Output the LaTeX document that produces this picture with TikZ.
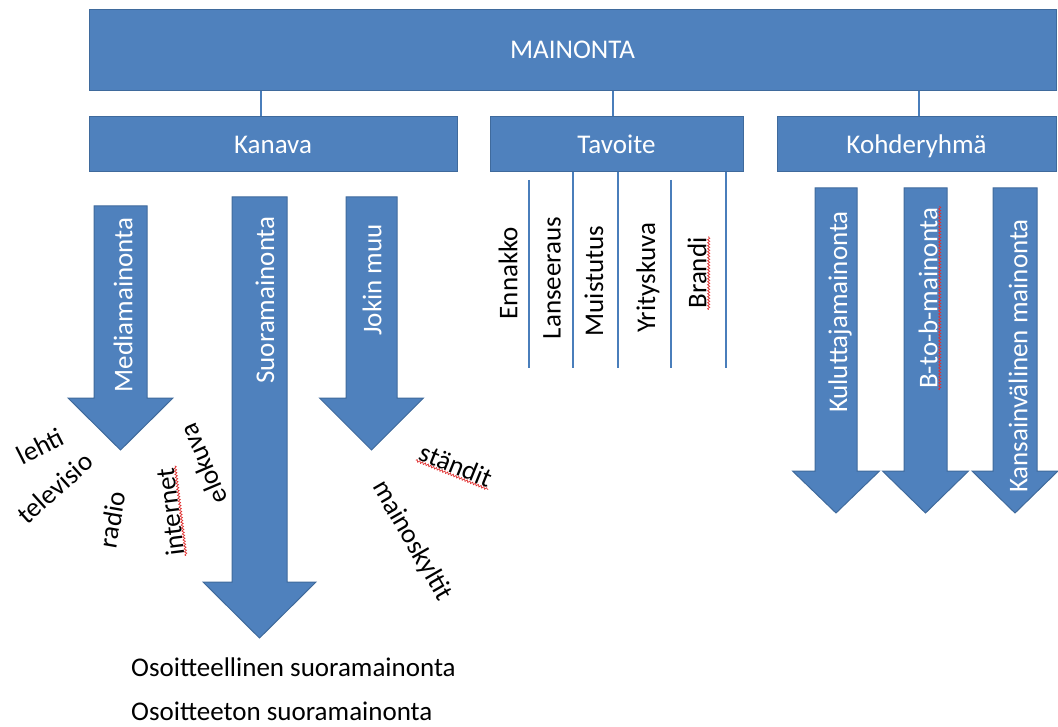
\documentclass[tikz,border=0pt]{standalone}
\usepackage{fontspec}
\setmainfont{Carlito}
\usetikzlibrary{decorations.pathmorphing}
\definecolor{boxblue}{HTML}{4F81BD}
\definecolor{boxedge}{HTML}{3F6A9C}
\definecolor{linkblue}{HTML}{4A7EBB}
\definecolor{spellred}{HTML}{E03030}

% block arrow pointing down: centre x, top y, shaft half width, head half width, head base y, tip y
\newcommand\blockarrow[6]{%
  \filldraw[arrowbody] (#1-#3,#2) -- (#1+#3,#2) -- (#1+#3,#5) -- (#1+#4,#5)
    -- (#1,#6) -- (#1-#4,#5) -- (#1-#3,#5) -- cycle;}

\begin{document}
\begin{tikzpicture}[x=1pt,y=-1pt,
  every node/.style={font=\fontsize{27}{32}\selectfont, inner sep=1pt},
  bluebox/.style={draw=boxedge, fill=boxblue, line width=1pt, text=white,
    rectangle, inner sep=0pt, text height=17.5pt, text depth=0pt},
  arrowbody/.style={draw=boxedge, fill=boxblue, line width=1pt, line join=miter},
  arrowtext/.style={text=white, rotate=90},
  vtext/.style={text=black, rotate=90},
  link/.style={draw=linkblue, line width=1.1pt},
  squiggle/.style={draw=spellred, line width=0.7pt, decorate,
    decoration={snake, amplitude=1.1pt, segment length=3pt}}]
\useasboundingbox (0,0) rectangle (1058,727);

% top level and the three categories
\node[bluebox, minimum width=967, minimum height=81] (main) at (572.5,50) {MAINONTA};
\node[bluebox, minimum width=368, minimum height=55] (kan) at (273,144.5) {Kanava};
\node[bluebox, minimum width=253, minimum height=55] (tav) at (616.5,144.5) {Tavoite};
\node[bluebox, minimum width=279, minimum height=55] (koh) at (916.5,144.5) {Kohderyhmä};

\draw[link] (261,0 |- main.south) -- (261,0 |- kan.north);
\draw[link] (613,0 |- main.south) -- (613,0 |- tav.north);
\draw[link] (919,0 |- main.south) -- (919,0 |- koh.north);

% goals: separators under Tavoite
\coordinate (tavbottom) at (616,368);
\draw[link] (529,180) -- (529,0 |- tavbottom);
\draw[link] (573,0 |- tav.south) -- (573,0 |- tavbottom);
\draw[link] (618,0 |- tav.south) -- (618,0 |- tavbottom);
\draw[link] (671,180) -- (671,0 |- tavbottom);
\draw[link] (726,0 |- tav.south) -- (726,0 |- tavbottom);

\node[vtext] (ennakko) at (508,273) {Ennakko};
\node[vtext] (lans) at (552,278) {Lanseeraus};
\node[vtext] (muist) at (594,281) {Muistutus};
\node[vtext] (yrit) at (648,278) {Yrityskuva};
\node[vtext] (brandi) at (697,273) {Brandi};
\draw[squiggle] ([xshift=1pt]brandi.south west) -- ([xshift=1pt]brandi.south east);

% channels
\blockarrow{120.5}{206}{26.5}{52.5}{398}{450}
\blockarrow{259.5}{197}{27.5}{56.5}{582}{638}
\blockarrow{371.5}{197}{25.5}{52}{398}{450}
\node[arrowtext] (media) at (123,305) {Mediamainonta};
\node[arrowtext] (suora) at (265,300) {Suoramainonta};
\node[arrowtext] (muu) at (372,280) {Jokin muu};

% target groups
\blockarrow{836}{188}{21}{43.5}{471}{513}
\blockarrow{925.5}{188}{21.5}{43}{471}{513}
\blockarrow{1015}{188}{22}{43}{471}{513}
\node[arrowtext] (kulut) at (840,312) {Kuluttajamainonta};
\node[arrowtext] (btob) at (928,298) {B-to-b-mainonta};
\node[arrowtext] (kansa) at (1018,356) {Kansainvälinen mainonta};
\draw[squiggle] ([xshift=1pt]btob.south west) -- ([xshift=1pt]btob.south east);

% media channels
\node[rotate=27] (lehti) at (40,446) {lehti};
\node[rotate=42] (tv) at (55,488) {televisio};
\node[rotate=80] (radio) at (112,520) {radio};
\node[rotate=97] (netti) at (170,512) {internet};
\draw[squiggle] (netti.south west) -- (netti.south east);
\node[rotate=113] (elokuva) at (203,464) {elokuva};

% other channels
\node[rotate=-22] (standit) at (456,465) {ständit};
\draw[squiggle] (standit.south west) -- (standit.south east);
\node[rotate=-60] (kyltit) at (412,541) {mainoskyltit};

% direct marketing types
\node[anchor=base west] (osoit) at (130,676) {Osoitteellinen suoramainonta};
\node[anchor=base west] (osoiton) at (130,720) {Osoitteeton suoramainonta};
\end{tikzpicture}
\end{document}
